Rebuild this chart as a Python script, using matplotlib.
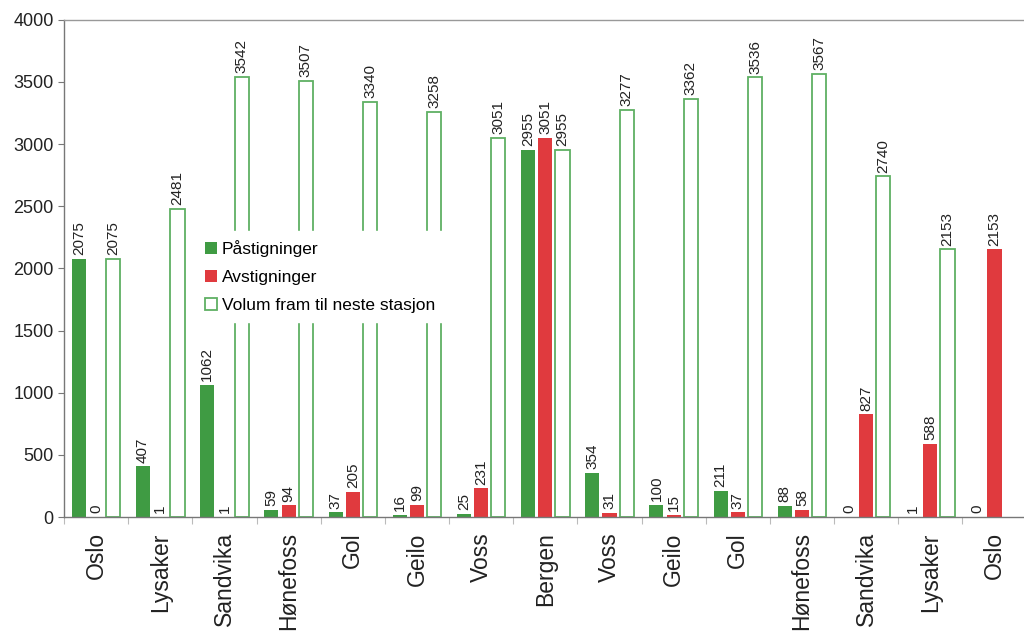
import numpy as np
import matplotlib
matplotlib.use("Agg")
import matplotlib.pyplot as plt

plt.rcParams["font.family"] = ["Liberation Sans", "DejaVu Sans"]

# stations along the route Oslo -> Bergen -> Oslo
stations = ["Oslo", "Lysaker", "Sandvika", "Hønefoss", "Gol", "Geilo", "Voss", "Bergen",
            "Voss", "Geilo", "Gol", "Hønefoss", "Sandvika", "Lysaker", "Oslo"]
pastigninger = [2075, 407, 1062, 59, 37, 16, 25, 2955, 354, 100, 211, 88, 0, 1, 0]
avstigninger = [0, 1, 1, 94, 205, 99, 231, 3051, 31, 15, 37, 58, 827, 588, 2153]
volum = [2075, 2481, 3542, 3507, 3340, 3258, 3051, 2955, 3277, 3362, 3536, 3567, 2740, 2153, None]

green = "#3f9b43"
red = "#e03a3e"
vol_edge = "#5fb063"
grey = "#777777"

fig = plt.figure(figsize=(10.24, 6.36), dpi=100)
ax = fig.add_axes([0.0625, 0.187, 0.94, 0.782])

x = np.arange(len(stations))
w = 0.22
off = 0.268

ax.bar(x - off, pastigninger, w, color=green, label="Påstigninger", zorder=2)
ax.bar(x, avstigninger, w, color=red, label="Avstigninger", zorder=2)
vx = [xi + off for xi, v in zip(x, volum) if v is not None]
vv = [v for v in volum if v is not None]
ax.bar(vx, vv, w, facecolor="white", edgecolor=vol_edge, linewidth=1.3,
       label="Volum fram til neste stasjon", zorder=2)

# value labels
def put(xs, vals):
    for xi, v in zip(xs, vals):
        ax.text(xi, v + 30, str(v), rotation=90, ha="center", va="bottom",
                fontsize=11, color="#222222", zorder=3)

put(x - off, pastigninger)
put(x, avstigninger)
put(vx, vv)

ax.set_ylim(0, 4000)
ax.set_xlim(-0.5, 14.46)
ax.set_yticks(range(0, 4001, 500))
ax.tick_params(axis="y", labelsize=13, colors=grey, labelcolor="#222222", length=4, width=0.8)

ax.set_xticks(x)
ax.set_xticklabels(stations, rotation=90, fontsize=16.5, color="#222222")
ax.tick_params(axis="x", length=0, pad=11)
ax.set_xticks(np.arange(-0.5, 14.6, 1), minor=True)
ax.tick_params(axis="x", which="minor", length=5, color="#bbbbbb", width=0.8)

for s in ["left", "bottom", "top"]:
    ax.spines[s].set_color(grey)
    ax.spines[s].set_linewidth(1.0)
ax.spines["right"].set_visible(False)
ax.spines["top"].set_color("#999999")

leg = ax.legend(loc="upper left", bbox_to_anchor=(0.128, 0.592), frameon=True,
                fontsize=12.5, handlelength=0.7, handleheight=0.7, handletextpad=0.3,
                labelspacing=0.75, borderpad=0.5, fancybox=False)
leg.get_frame().set_edgecolor("white")
leg.get_frame().set_facecolor("white")
leg.get_frame().set_alpha(1)
leg.set_zorder(5)

fig.savefig("out.png", dpi=100)
